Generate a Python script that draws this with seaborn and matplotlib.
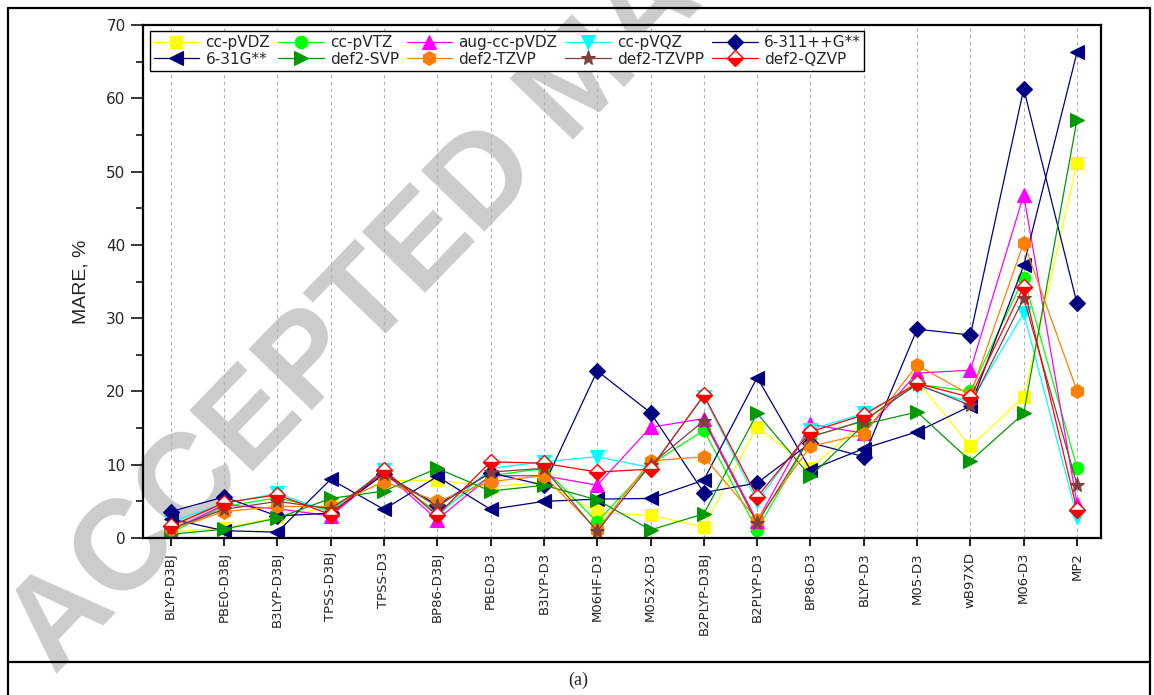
import numpy as np
import matplotlib
matplotlib.use("Agg")
import matplotlib.pyplot as plt
from matplotlib.lines import Line2D
from matplotlib.ticker import MultipleLocator
import seaborn as sns

# DATA
functionals = ["BLYP-D3BJ", "PBE0-D3BJ", "B3LYP-D3BJ", "TPSS-D3BJ", "TPSS-D3",
               "BP86-D3BJ", "PBE0-D3", "B3LYP-D3", "M06HF-D3", "M052X-D3",
               "B2PLYP-D3BJ", "B2PLYP-D3", "BP86-D3", "BLYP-D3", "M05-D3",
               "wB97XD", "M06-D3", "MP2"]

cc_pvdz = [0.8, 1.4, 2.8, 4.3, 7.8, 7.9, 7.0, 7.6, 3.5, 3.1, 1.5, 15.2, 9.5, 15.9, 21.5, 12.5, 19.2, 51.2]
cc_pvtz = [0.7, 4.3, 5.5, 3.8, 8.8, 3.5, 8.5, 9.5, 2.2, 10.0, 14.7, 1.1, 13.8, 16.0, 21.0, 20.0, 35.5, 9.6]
aug_cc_pvdz = [1.0, 4.5, 4.0, 3.0, 9.0, 2.5, 8.5, 8.5, 7.2, 15.1, 16.3, 2.3, 15.5, 14.3, 22.5, 22.9, 46.8, 4.7]
cc_pvqz = [2.2, 4.7, 6.1, 3.5, 9.3, 3.0, 9.5, 10.4, 11.1, 9.6, 19.3, 5.0, 14.8, 17.0, 20.8, 18.5, 30.7, 2.9]
g6_311pp = [3.6, 5.6, 3.0, 3.4, 8.7, 4.5, 8.9, 7.2, 22.8, 17.1, 6.2, 7.5, 13.0, 11.1, 28.5, 27.7, 61.3, 32.0]
g6_31 = [2.6, 1.0, 0.8, 8.0, 3.9, 8.4, 3.9, 5.0, 5.3, 5.4, 7.9, 21.9, 9.3, 12.2, 14.5, 18.0, 37.2, 66.3]
def2_svp = [0.5, 1.2, 2.7, 5.4, 6.4, 9.5, 6.4, 7.2, 5.2, 1.1, 3.3, 17.0, 8.4, 15.5, 17.2, 10.5, 17.0, 57.1]
def2_tzvp = [1.2, 3.6, 4.3, 4.3, 7.7, 5.0, 7.7, 8.5, 1.1, 10.5, 11.1, 2.5, 12.5, 14.2, 23.6, 19.5, 40.3, 20.1]
def2_tzvpp = [1.3, 3.9, 5.0, 4.0, 8.8, 4.3, 9.0, 9.5, 0.9, 10.0, 16.0, 2.0, 13.8, 16.0, 21.0, 18.1, 32.7, 7.3]
def2_qzvp = [1.6, 4.8, 5.9, 3.2, 9.3, 3.1, 10.4, 10.2, 9.0, 9.4, 19.5, 5.6, 14.5, 16.8, 21.1, 19.2, 34.3, 3.8]

series = [
    ("cc-pVDZ", cc_pvdz, "#FFFF00", "s", 8),
    ("cc-pVTZ", cc_pvtz, "#00FF00", "o", 9),
    ("aug-cc-pVDZ", aug_cc_pvdz, "#FF00FF", "^", 10),
    ("cc-pVQZ", cc_pvqz, "#00FFFF", "v", 10),
    ("6-311++G**", g6_311pp, "#000080", "D", 8),
    ("6-31G**", g6_31, "#000080", "<", 10),
    ("def2-SVP", def2_svp, "#009900", ">", 10),
    ("def2-TZVP", def2_tzvp, "#FF8000", "h", 10),
    ("def2-TZVPP", def2_tzvpp, "#804040", "*", 11),
    ("def2-QZVP", def2_qzvp, "#FF0000", "D", 8),
]

sns.set_style("white")
plt.rcParams["font.family"] = ["DejaVu Sans"]

fig = plt.figure(figsize=(11.54, 6.95), dpi=100)

# watermark, behind everything
fig.text(-0.01, 0.0, "ACCEPTED MANUSCRIPT", rotation=46, color="#cccccc",
         fontsize=92, fontweight="bold", family="Liberation Sans",
         ha="left", va="bottom", zorder=-5)

ax = fig.add_axes([0.1239, 0.2259, 0.8302, 0.7381])
ax.patch.set_alpha(0)

x = np.arange(len(functionals))
for name, vals, color, mk, ms in series:
    kw = dict(marker=mk, markersize=ms, color=color, markerfacecolor=color,
              markeredgecolor=color, linewidth=0.9, markeredgewidth=0.8)
    if name == "def2-QZVP":
        kw.update(fillstyle="bottom", markerfacecoloralt="white", markeredgewidth=1.0)
    sns.lineplot(x=x, y=vals, ax=ax, label=name, sort=False, **kw)

ax.set_xlim(-0.52, 17.45)
ax.set_ylim(0, 70)
ax.set_xticks(x)
ax.set_xticklabels(functionals, rotation=90, fontsize=9.5)
ax.yaxis.set_major_locator(MultipleLocator(10))
ax.yaxis.set_minor_locator(MultipleLocator(5))
ax.tick_params(axis="y", which="major", direction="out", length=9, width=1.3,
               labelsize=11, left=True)
ax.tick_params(axis="y", which="minor", direction="out", length=5, width=1.3, left=True)
ax.tick_params(axis="x", which="major", direction="out", length=6, width=1.5,
               bottom=True, pad=4)
for xv in x:
    ax.axvline(xv, color="#b0b0b0", linestyle=(0, (3, 3)), linewidth=0.8, zorder=0)
for sp in ax.spines.values():
    sp.set_color("black")
    sp.set_linewidth(1.6)

ax.set_xlabel("")
ax.set_ylabel("MARE, %", fontsize=14, family="Liberation Sans", labelpad=12)

# legend: two rows of five, filled row by row
handles, labels = ax.get_legend_handles_labels()
order = [0, 5, 1, 6, 2, 7, 3, 8, 4, 9]
leg = ax.legend([handles[i] for i in order], [labels[i] for i in order],
                loc="upper left", bbox_to_anchor=(0.007, 0.988), ncol=5,
                fontsize=11, frameon=True, fancybox=False, edgecolor="black",
                framealpha=1, handlelength=3.0, handletextpad=0.4,
                columnspacing=0.5, labelspacing=0.12, borderpad=0.25,
                borderaxespad=0)
leg.get_frame().set_linewidth(1.0)

# outer frame and caption
def px(xp, yp):
    return xp / 1154, 1 - yp / 695

for (x0, y0), (x1, y1) in [((8, 8), (1150, 8)), ((8, 8), (8, 700)),
                           ((1150, 8), (1150, 700)), ((8, 662), (1150, 662))]:
    a, b = px(x0, y0)
    c, d = px(x1, y1)
    fig.add_artist(Line2D([a, c], [b, d], color="black", linewidth=1.6))

fig.text(578 / 1154, 1 - 680 / 695, "(a)", ha="center", va="center",
         fontsize=13, family="Liberation Serif")

fig.savefig("out.png", dpi=100)
